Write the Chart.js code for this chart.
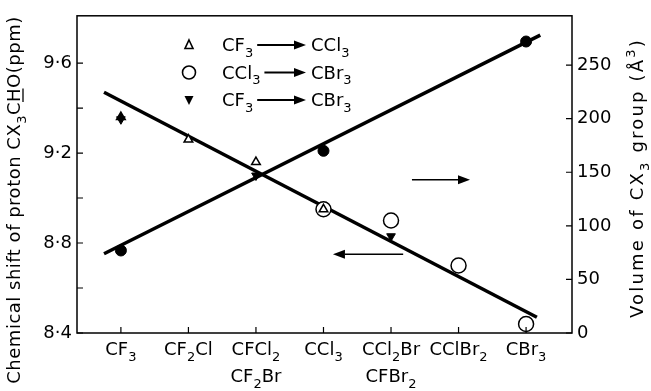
<!DOCTYPE html>
<html>
<head>
<meta charset="utf-8">
<script src="https://cdn.jsdelivr.net/npm/chart.js@4/dist/chart.umd.min.js"></script>
<style>
  body { margin: 0; background: #fff; }
  canvas { display: block; }
</style>
</head>
<body>
<canvas id="chart" width="651" height="391"></canvas>
<script>
const FONT = '"DejaVu Sans", sans-serif';

// x categories, "_n" marks a subscript, each entry may hold two lines
const categories = [["CF_3"], ["CF_2Cl"], ["CFCl_2", "CF_2Br"], ["CCl_3"], ["CCl_2Br", "CFBr_2"], ["CClBr_2"], ["CBr_3"]];

// left axis: chemical shift (ppm)
const shiftTicks = [8.4, 8.6, 8.8, 9.0, 9.2, 9.4, 9.6];
const shiftLabels = ["8·4", "", "8·8", "", "9·2", "", "9·6"];
// right axis: volume (A^3)
const volumeTicks = [0, 50, 100, 150, 200, 250];

// CF3 -> CCl3 (open triangles)
const triangleX = [0, 1, 2, 3];
const triangleY = [9.36, 9.26, 9.16, 8.95];
// CCl3 -> CBr3 (open circles)
const circleX = [3, 4, 5, 6];
const circleY = [8.95, 8.90, 8.70, 8.44];
// CF3 -> CBr3 (filled down triangles)
const downX = [0, 2, 4];
const downY = [9.35, 9.10, 8.83];
// volume of CX3 group (filled circles)
const volumeX = [0, 3, 6];
const volumeY = [77, 170, 272];

// fitted lines
const shiftFitX = [-0.25, 6.16];
const shiftFitY = [9.47, 8.47];
const volumeFitX = [-0.25, 6.21];
const volumeFitY = [74, 278];

// legend rows
const legendRows = [
  { marker: "triangle", from: "CF_3", to: "CCl_3" },
  { marker: "circle", from: "CCl_3", to: "CBr_3" },
  { marker: "down", from: "CF_3", to: "CBr_3" },
];

function pts(xs, ys) {
  return xs.map((x, i) => ({ x, y: ys[i] }));
}

function parseRich(str) {
  const parts = [];
  let i = 0;
  let buf = "";
  while (i < str.length) {
    const c = str[i];
    if (c === "_" || c === "^" || c === "#") {
      if (buf) { parts.push({ t: buf, k: "n" }); buf = ""; }
      parts.push({ t: str[i + 1], k: c === "_" ? "sub" : c === "^" ? "sup" : "u" });
      i += 2;
    } else {
      buf += c;
      i++;
    }
  }
  if (buf) parts.push({ t: buf, k: "n" });
  return parts;
}

function drawRich(ctx, str, x, y, size, align, spacing) {
  const parts = parseRich(str);
  const small = Math.round(size * 0.72);
  ctx.letterSpacing = (spacing || 0) + "px";
  let width = 0;
  parts.forEach((p) => {
    ctx.font = (p.k === "sub" || p.k === "sup" ? small : size) + "px " + FONT;
    p.w = ctx.measureText(p.t).width;
    width += p.w;
  });
  let cx = align === "center" ? x - width / 2 : align === "right" ? x - width : x;
  ctx.textAlign = "left";
  ctx.textBaseline = "alphabetic";
  ctx.fillStyle = "#000";
  parts.forEach((p) => {
    let dy = 0;
    if (p.k === "sub") dy = size * 0.32;
    if (p.k === "sup") dy = -size * 0.45;
    ctx.font = (p.k === "sub" || p.k === "sup" ? small : size) + "px " + FONT;
    ctx.fillText(p.t, cx, y + dy);
    if (p.k === "u") {
      ctx.lineWidth = 1.3;
      ctx.beginPath();
      ctx.moveTo(cx, y + 3);
      ctx.lineTo(cx + p.w - (spacing || 0), y + 3);
      ctx.stroke();
    }
    cx += p.w;
  });
  ctx.letterSpacing = "0px";
  return width;
}

function arrow(ctx, x1, y1, x2, y2, lw) {
  // arrow from (x1,y1) with head at (x2,y2)
  const ang = Math.atan2(y2 - y1, x2 - x1);
  const len = 12;
  const hw = 4.5;
  ctx.strokeStyle = "#000";
  ctx.fillStyle = "#000";
  ctx.lineWidth = lw;
  ctx.beginPath();
  ctx.moveTo(x1, y1);
  ctx.lineTo(x2 - len * Math.cos(ang), y2 - len * Math.sin(ang));
  ctx.stroke();
  ctx.beginPath();
  ctx.moveTo(x2, y2);
  ctx.lineTo(x2 - len * Math.cos(ang) - hw * Math.sin(ang), y2 - len * Math.sin(ang) + hw * Math.cos(ang));
  ctx.lineTo(x2 - len * Math.cos(ang) + hw * Math.sin(ang), y2 - len * Math.sin(ang) - hw * Math.cos(ang));
  ctx.closePath();
  ctx.fill();
}

function marker(ctx, kind, x, y) {
  ctx.strokeStyle = "#000";
  ctx.lineWidth = 1.6;
  ctx.beginPath();
  if (kind === "circle") {
    ctx.arc(x, y, 6.5, 0, Math.PI * 2);
    ctx.stroke();
  } else if (kind === "triangle") {
    ctx.moveTo(x, y - 5);
    ctx.lineTo(x + 4, y + 3.5);
    ctx.lineTo(x - 4, y + 3.5);
    ctx.closePath();
    ctx.stroke();
  } else {
    ctx.moveTo(x - 4.5, y - 4);
    ctx.lineTo(x + 4.5, y - 4);
    ctx.lineTo(x, y + 5);
    ctx.closePath();
    ctx.fillStyle = "#000";
    ctx.fill();
  }
}

const decorPlugin = {
  id: "decor",
  afterDatasetsDraw(chart) {
    const ctx = chart.ctx;
    const area = chart.chartArea;
    const xs = chart.scales.x;
    const yl = chart.scales.y;
    const yr = chart.scales.y2;
    ctx.save();

    // frame
    ctx.strokeStyle = "#000";
    ctx.lineWidth = 1.5;
    ctx.strokeRect(area.left, area.top, area.right - area.left, area.bottom - area.top);

    // inward tick marks
    ctx.lineWidth = 1.2;
    ctx.beginPath();
    categories.forEach((c, i) => {
      const px = xs.getPixelForValue(i);
      ctx.moveTo(px, area.bottom);
      ctx.lineTo(px, area.bottom - 6);
    });
    shiftTicks.forEach((v) => {
      const py = yl.getPixelForValue(v);
      ctx.moveTo(area.left, py);
      ctx.lineTo(area.left + 6, py);
    });
    volumeTicks.forEach((v) => {
      const py = yr.getPixelForValue(v);
      ctx.moveTo(area.right, py);
      ctx.lineTo(area.right - 6, py);
    });
    ctx.stroke();

    // category labels
    categories.forEach((lines, i) => {
      const px = xs.getPixelForValue(i);
      lines.forEach((line, j) => {
        drawRich(ctx, line, px, 355 + j * 27, 18, "center");
      });
    });

    // axis titles
    ctx.save();
    ctx.translate(20, 200);
    ctx.rotate(-Math.PI / 2);
    drawRich(ctx, "Chemical shift of proton CX_3C#HO(ppm)", 0, 0, 18, "center", 0.5);
    ctx.restore();

    ctx.save();
    ctx.translate(643, 178);
    ctx.rotate(-Math.PI / 2);
    drawRich(ctx, "Volume of CX_3 group (Å^3)", 0, 0, 18, "center", 2.2);
    ctx.restore();

    // legend
    legendRows.forEach((row, i) => {
      const y = 51 + i * 27.5;
      marker(ctx, row.marker, 189, y - 6);
      const w = drawRich(ctx, row.from, 222, y, 18, "left");
      arrow(ctx, 222 + w + 4, y - 6, 306, y - 6, 2);
      drawRich(ctx, row.to, 311, y, 18, "left");
    });

    // arrows pointing to each line's axis
    arrow(ctx, xs.getPixelForValue(4.18), yl.getPixelForValue(8.75), xs.getPixelForValue(3.14), yl.getPixelForValue(8.75), 1.5);
    arrow(ctx, xs.getPixelForValue(4.31), yr.getPixelForValue(143), xs.getPixelForValue(5.17), yr.getPixelForValue(143), 1.5);

    ctx.restore();
  },
};

const fitStyle = {
  type: "line",
  showLine: true,
  borderColor: "#000",
  borderWidth: 3.5,
  pointRadius: 0,
  fill: false,
  order: 5,
};

new Chart(document.getElementById("chart"), {
  type: "scatter",
  data: {
    datasets: [
      { ...fitStyle, data: pts(shiftFitX, shiftFitY), yAxisID: "y" },
      { ...fitStyle, data: pts(volumeFitX, volumeFitY), yAxisID: "y2" },
      {
        data: pts(volumeX, volumeY),
        yAxisID: "y2",
        pointRadius: 5.5,
        backgroundColor: "#000",
        borderColor: "#000",
        order: 1,
      },
      {
        data: pts(circleX, circleY),
        yAxisID: "y",
        pointRadius: 7.5,
        backgroundColor: "#fff",
        borderColor: "#000",
        borderWidth: 1.5,
        order: 3,
      },
      {
        data: pts(triangleX, triangleY),
        yAxisID: "y",
        pointStyle: "triangle",
        pointRadius: 5,
        backgroundColor: triangleX.map((x) => (x === 0 ? "#000" : "#fff")),
        borderColor: "#000",
        borderWidth: 1.5,
        order: 2,
      },
      {
        data: pts(downX, downY),
        yAxisID: "y",
        pointStyle: "triangle",
        rotation: 180,
        pointRadius: 5,
        backgroundColor: "#000",
        borderColor: "#000",
        borderWidth: 1,
        order: 1,
      },
    ],
  },
  options: {
    responsive: false,
    animation: false,
    layout: { padding: { top: 12, left: 0, right: 0, bottom: 0 } },
    plugins: {
      legend: { display: false },
      tooltip: { enabled: false },
    },
    scales: {
      x: {
        type: "linear",
        min: -0.65,
        max: 6.68,
        afterBuildTicks: (s) => { s.ticks = categories.map((c, i) => ({ value: i })); },
        ticks: { display: false },
        grid: { display: false, drawTicks: false },
        border: { display: false },
        afterFit: (s) => { s.height = 58; },
      },
      y: {
        position: "left",
        min: 8.4,
        max: 9.81,
        afterBuildTicks: (s) => { s.ticks = shiftTicks.map((v) => ({ value: v })); },
        ticks: {
          callback: (v) => shiftLabels[shiftTicks.findIndex((t) => Math.abs(t - v) < 1e-6)] || "",
          color: "#000",
          font: { family: FONT, size: 18 },
          padding: 5,
        },
        grid: { display: false, drawTicks: false },
        border: { display: false },
        afterFit: (s) => { s.width = 77; },
      },
      y2: {
        position: "right",
        min: 0,
        max: 296,
        afterBuildTicks: (s) => { s.ticks = volumeTicks.map((v) => ({ value: v })); },
        ticks: {
          color: "#000",
          font: { family: FONT, size: 18 },
          padding: 5,
        },
        grid: { display: false, drawTicks: false },
        border: { display: false },
        afterFit: (s) => { s.width = 79; },
      },
    },
  },
  plugins: [decorPlugin],
});
</script>
</body>
</html>
